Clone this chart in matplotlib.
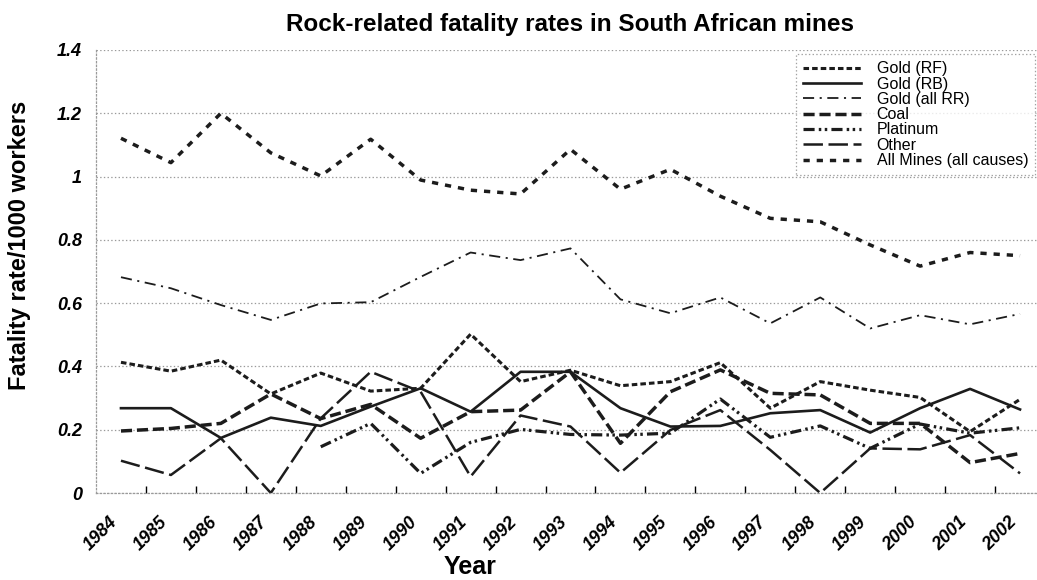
import numpy as np
import matplotlib
matplotlib.use("Agg")
import matplotlib.pyplot as plt

plt.rcParams['font.family'] = ['Liberation Sans', 'DejaVu Sans']
plt.rcParams['lines.scale_dashes'] = False

# datos
years = [str(y) for y in range(1984, 2003)]
gold_rf = [0.413, 0.385, 0.420, 0.313, 0.379, 0.322, 0.331, 0.502, 0.352, 0.388,
           0.339, 0.352, 0.412, 0.268, 0.352, 0.325, 0.302, 0.194, 0.296]
gold_rb = [0.268, 0.268, 0.174, 0.238, 0.212, 0.273, 0.331, 0.257, 0.383, 0.383,
           0.268, 0.210, 0.212, 0.252, 0.262, 0.191, 0.268, 0.329, 0.264]
gold_rr = [0.682, 0.647, 0.594, 0.547, 0.599, 0.603, 0.683, 0.760, 0.736, 0.773,
           0.612, 0.568, 0.618, 0.536, 0.618, 0.520, 0.562, 0.533, 0.566]
coal = [0.196, 0.204, 0.220, 0.313, 0.235, 0.280, 0.173, 0.257, 0.262, 0.383,
        0.157, 0.320, 0.389, 0.315, 0.310, 0.220, 0.220, 0.096, 0.125]
platinum = [np.nan, np.nan, np.nan, np.nan, 0.146, 0.220, 0.062, 0.160, 0.201, 0.185,
            0.183, 0.189, 0.297, 0.176, 0.212, 0.141, 0.218, 0.189, 0.206]
other = [0.102, 0.057, 0.173, 0.000, 0.236, 0.383, 0.320, 0.052, 0.245, 0.210,
         0.064, 0.199, 0.262, 0.136, 0.000, 0.141, 0.138, 0.183, 0.062]
all_mines = [1.121, 1.044, 1.200, 1.075, 1.002, 1.118, 0.989, 0.957, 0.945, 1.086,
             0.960, 1.023, 0.938, 0.868, 0.857, 0.784, 0.717, 0.760, 0.750]

fig = plt.figure(figsize=(10.37, 5.8), dpi=100)
ax = fig.add_axes([96/1037, 1 - 493/580, 949/1037, 443/580])

x = np.arange(len(years))
ink = "#1c1c1c"
ax.plot(x, gold_rf, color=ink, lw=2.2, dashes=(4, 2.2), label="Gold (RF)")
ax.plot(x, gold_rb, color=ink, lw=1.9, label="Gold (RB)")
ax.plot(x, gold_rr, color=ink, lw=1.3, dashes=(8, 4, 1.5, 4), label="Gold (all RR)")
ax.plot(x, coal, color=ink, lw=2.5, dashes=(8, 3.5), label="Coal")
ax.plot(x, platinum, color=ink, lw=2.3, dashes=(8, 3, 1.8, 2.5, 1.8, 3), label="Platinum")
ax.plot(x, other, color=ink, lw=1.8, dashes=(14, 4), label="Other")
ax.plot(x, all_mines, color=ink, lw=2.5, dashes=(4.5, 5), label="All Mines (all causes)")

ax.set_xlim(-0.5, len(years) - 0.5)
ax.set_ylim(0, 1.4)
ax.set_yticks(np.arange(0, 1.41, 0.2))
ax.set_yticklabels(["0", "0.2", "0.4", "0.6", "0.8", "1", "1.2", "1.4"],
                   fontsize=13, fontweight="bold", fontstyle="italic")
ax.tick_params(axis="y", length=0, pad=10)

ax.set_xticks(x)
ax.set_xticklabels(years, rotation=45, ha="right", va="top",
                   fontsize=13, fontweight="bold", fontstyle="italic")
ax.tick_params(axis="x", which="major", length=0, pad=15)
ax.set_xticks(x[:-1] + 0.5, minor=True)
ax.tick_params(axis="x", which="minor", direction="in", length=5, width=1, color="black")

ax.grid(axis="y", color="#9a9a9a", linestyle=":", linewidth=0.9)
for s in ["top", "right"]:
    ax.spines[s].set_visible(False)
for s in ["left", "bottom"]:
    ax.spines[s].set_color("#9a9a9a")
    ax.spines[s].set_linestyle(":")
    ax.spines[s].set_linewidth(0.9)

ax.set_title("Rock-related fatality rates in South African mines",
             fontsize=17.5, fontweight="bold", pad=14)
ax.set_ylabel("Fatality rate/1000 workers", fontsize=17, fontweight="bold")
ax.yaxis.set_label_coords(-0.0685, 0.56)
ax.set_xlabel("Year", fontsize=18, fontweight="bold", va="top")
ax.xaxis.set_label_coords(0.394, -0.14)

leg = ax.legend(loc="upper left", bbox_to_anchor=(796/1037, 1 - 54/580),
                bbox_transform=fig.transFigure, fontsize=11.5, frameon=True,
                fancybox=False, handlelength=3.6, handletextpad=1.0,
                labelspacing=0.02, borderpad=0.45, borderaxespad=0)
leg.get_frame().set_edgecolor("#8a8a8a")
leg.get_frame().set_linestyle(":")
leg.get_frame().set_linewidth(0.9)

fig.savefig("out.png", dpi=100)
